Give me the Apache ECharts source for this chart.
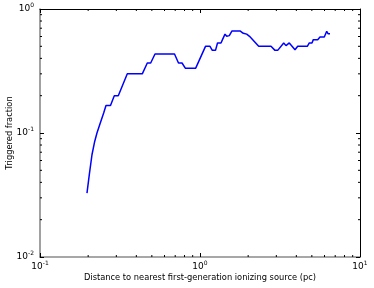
<!DOCTYPE html>
<html><head><meta charset="utf-8">
<script src="https://cdn.jsdelivr.net/npm/echarts@6/dist/echarts.min.js"></script>
<style>html,body{margin:0;padding:0;background:#fff}#c{width:374px;height:288px}</style>
</head><body><div id="c"></div>
<script>
const distance = [0.1966,0.2033,0.2113,0.2197,0.2270,0.2381,0.2500,0.2585,0.2758,0.2913,0.3085,0.3513,0.4358,0.4684,0.4918,0.5233,0.6929,0.7338,0.7720,0.8092,0.9400,1.0823,1.1548,1.1937,1.2500,1.2866,1.3527,1.3822,1.4330,1.4688,1.5245,1.5850,1.7780,1.8650,1.9580,2.0390,2.3270,2.7780,2.9430,3.0590,3.3360,3.4480,3.6140,3.9250,4.0790,4.6850,4.8220,5.0120,5.1070,5.4400,5.6230,5.9820,6.1940,6.3100,6.4940];
const fraction = [0.0328,0.0461,0.0668,0.0855,0.1000,0.1204,0.1450,0.1667,0.1667,0.2000,0.2000,0.3000,0.3000,0.3670,0.3670,0.4340,0.4340,0.3670,0.3670,0.3333,0.3333,0.5000,0.5000,0.4640,0.4640,0.5325,0.5325,0.5660,0.6270,0.6020,0.6100,0.6660,0.6660,0.6370,0.6270,0.6020,0.5000,0.5000,0.4640,0.4640,0.5325,0.5065,0.5325,0.4700,0.5000,0.5000,0.5325,0.5325,0.5660,0.5660,0.5950,0.5950,0.6610,0.6330,0.6330];
const xMinorTicks = [0.2,0.3,0.4,0.5,0.6,0.7,0.8,0.9,2,3,4,5,6,7,8,9];
const yMinorTicks = [0.02,0.03,0.04,0.05,0.06,0.07,0.08,0.09,0.2,0.3,0.4,0.5,0.6,0.7,0.8,0.9];
const xTickLabels = ['10^-1','10^0','10^1'];
const yTickLabels = ['10^-2','10^-1','10^0'];

const FONT = 'DejaVu Sans';
function powLabel(v){
  const e = Math.round(Math.log10(v));
  return '{b|10}{s|' + e + '}';
}
const rich = {
  b:{fontSize:9,fontFamily:FONT,color:'#000'},
  s:{fontSize:6,fontFamily:FONT,color:'#000',padding:[0,0,7,0]}
};
const spineDark = {lineStyle:{color:'#000',width:1}};
const spineGray = {lineStyle:{color:'#8a8a8a',width:1.6}};

const chart = echarts.init(document.getElementById('c'), null, {renderer:'canvas'});
chart.setOption({
  animation:false,
  grid:{left:40,right:14,top:9,bottom:31,containLabel:false,outerBoundsMode:'none'},
  xAxis:[
    {type:'log',logBase:10,min:0.1,max:10,position:'bottom',
     name:'Distance to nearest first-generation ionizing source (pc)',
     nameLocation:'middle',nameGap:17,nameMoveOverlap:false,
     nameTextStyle:{fontFamily:FONT,fontSize:8.3,color:'#000'},
     axisLine:spineGray,
     axisTick:{inside:true,length:4,lineStyle:{color:'#000'}},
     axisLabel:{formatter:powLabel,rich:rich,margin:3},
     splitLine:{show:false}},
    {type:'log',logBase:10,min:0.1,max:10,position:'top',
     axisLine:spineDark,
     axisTick:{inside:true,length:4,lineStyle:{color:'#000'}},
     axisLabel:{show:false},splitLine:{show:false}}
  ],
  yAxis:[
    {type:'log',logBase:10,min:0.01,max:1,position:'left',
     name:'Triggered fraction',nameLocation:'middle',nameGap:26,nameMoveOverlap:false,
     nameTextStyle:{fontFamily:FONT,fontSize:8.3,color:'#000'},
     axisLine:spineGray,
     axisTick:{inside:true,length:4,lineStyle:{color:'#000'}},
     axisLabel:{formatter:powLabel,rich:rich,margin:6},
     splitLine:{show:false}},
    {type:'log',logBase:10,min:0.01,max:1,position:'right',
     axisLine:spineDark,
     axisTick:{inside:true,length:4,lineStyle:{color:'#000'}},
     axisLabel:{show:false},splitLine:{show:false}}
  ],
  series:[
    {type:'line',data:distance.map((d,i)=>[d,fraction[i]]),showSymbol:false,
     lineStyle:{color:'#0000ff',width:1.5},itemStyle:{color:'#0000ff'},z:5},
    {type:'custom',data:xMinorTicks.map(v=>[v,0.1]),silent:true,z:3,
     renderItem:function(params,api){
       const cs=params.coordSys; const x=api.coord([api.value(0),0.1])[0];
       return {type:'group',children:[
         {type:'line',shape:{x1:x,y1:cs.y+cs.height,x2:x,y2:cs.y+cs.height-2},style:{stroke:'#000',lineWidth:1}},
         {type:'line',shape:{x1:x,y1:cs.y,x2:x,y2:cs.y+2},style:{stroke:'#000',lineWidth:1}}
       ]};
     }},
    {type:'custom',data:yMinorTicks.map(v=>[1,v]),silent:true,z:3,
     renderItem:function(params,api){
       const cs=params.coordSys; const y=api.coord([1,api.value(1)])[1];
       return {type:'group',children:[
         {type:'line',shape:{x1:cs.x,y1:y,x2:cs.x+2,y2:y},style:{stroke:'#000',lineWidth:1}},
         {type:'line',shape:{x1:cs.x+cs.width,y1:y,x2:cs.x+cs.width-2,y2:y},style:{stroke:'#000',lineWidth:1}}
       ]};
     }}
  ]
});
</script></body></html>
